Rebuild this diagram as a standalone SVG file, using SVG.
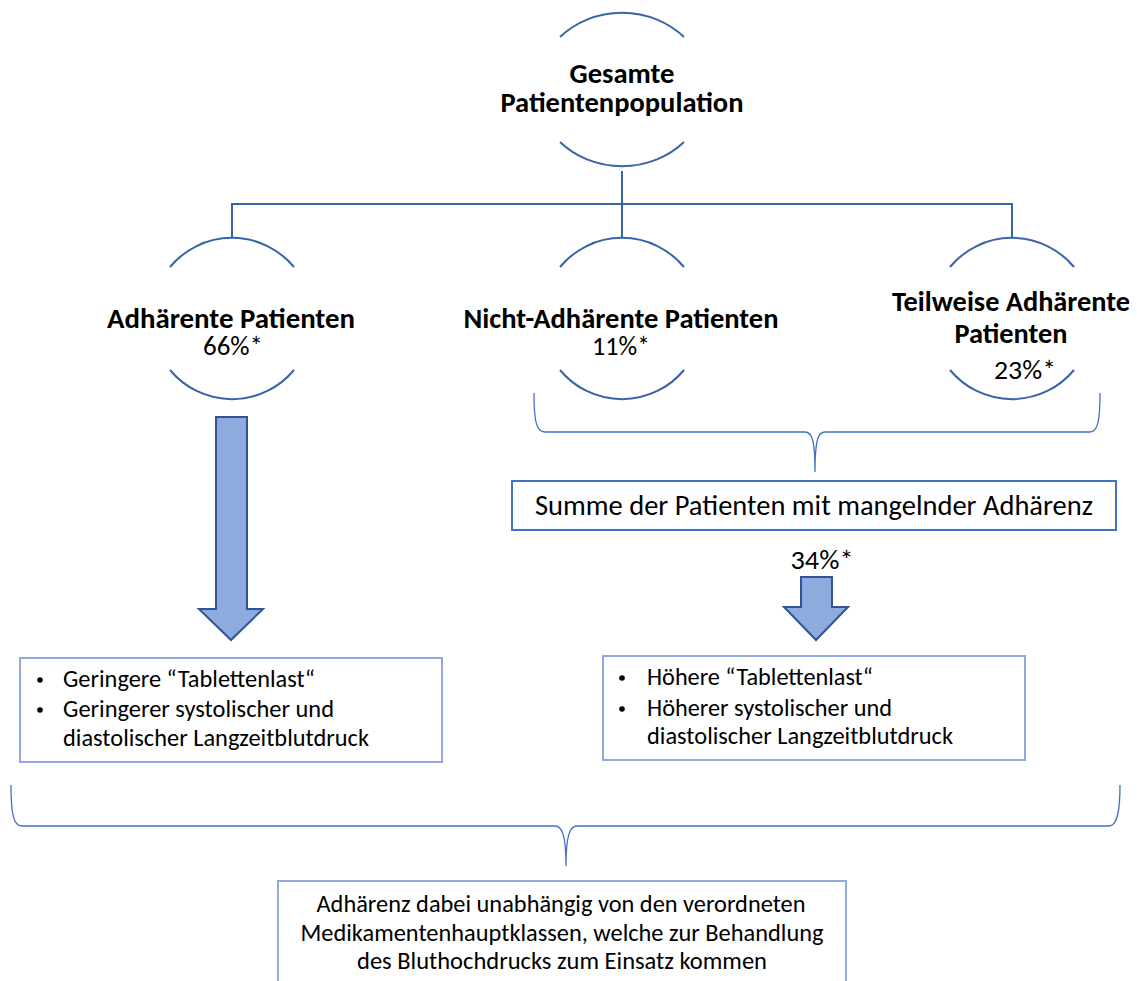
<svg xmlns="http://www.w3.org/2000/svg" width="1137" height="981" viewBox="0 0 1137 981">
  <style>
    text { font-family: Carlito, Calibri, Lato, "Liberation Sans", sans-serif; fill: #000; }
    .h { font-size: 28px; font-weight: bold; text-anchor: middle; }
    .p { font-size: 24px; text-anchor: middle; }
    .pc { font-size: 26px; text-anchor: middle; }
    .b { font-size: 24px; }
    .arc { fill: none; stroke: #3a63a8; stroke-width: 2; }
    .conn { fill: none; stroke: #3a63a8; stroke-width: 2; }
    .brace { fill: none; stroke: #4472c4; stroke-width: 1.3; }
    .box { fill: #fff; stroke: #8faadc; stroke-width: 2; }
    .box-dark { fill: #fff; stroke: #4472c4; stroke-width: 2; }
    .arrow { fill: #8faadc; stroke: #2f5597; stroke-width: 2; stroke-linejoin: miter; }
  </style>
  <rect width="1137" height="981" fill="#fff"/>

  <!-- tree connectors and braces -->
  <g id="connectors">
    <path class="conn" d="M622,171 V238"/>
    <path class="conn" d="M232,238 V204 H1012 V238"/>
    <path class="brace" d="M534,393 C534,420 536,432 545,432 H805 C812,432 815,440 815,472 C815,440 818,432 825,432 H1090 C1098,432 1100,420 1100,393"/>
    <path class="brace" d="M11,785 C11,812 13,826 22,826 H555 C562,826 566,835 566,866 C566,835 570,826 577,826 H1109 C1117,826 1120,812 1120,785"/>
  </g>

  <!-- root node -->
  <g id="node-total">
    <path class="arc" d="M560,37 A86,79 0 0 1 684,37"/>
    <path class="arc" d="M560,142 A86,79 0 0 0 684,142"/>
    <text class="h" x="622" y="83" textLength="105" lengthAdjust="spacingAndGlyphs">Gesamte</text>
    <text class="h" x="622" y="112" textLength="243" lengthAdjust="spacingAndGlyphs">Patientenpopulation</text>
  </g>

  <g id="node-adherent">
    <path class="arc" d="M170,267 A80.5,80.5 0 0 1 294,267"/>
    <path class="arc" d="M170,370 A80.5,80.5 0 0 0 294,370"/>
    <text class="h" x="231" y="328" textLength="248" lengthAdjust="spacingAndGlyphs">Adhärente Patienten</text>
    <text class="pc" x="233" y="355" textLength="60" lengthAdjust="spacingAndGlyphs">66%*</text>
  </g>

  <g id="node-non-adherent">
    <path class="arc" d="M560,267 A80.5,80.5 0 0 1 684,267"/>
    <path class="arc" d="M560,370 A80.5,80.5 0 0 0 684,370"/>
    <text class="h" x="621" y="328" textLength="315" lengthAdjust="spacingAndGlyphs">Nicht-Adhärente Patienten</text>
    <text class="pc" x="621" y="355" textLength="58" lengthAdjust="spacingAndGlyphs">11%*</text>
  </g>

  <g id="node-partial">
    <path class="arc" d="M950,267 A80.5,80.5 0 0 1 1074,267"/>
    <path class="arc" d="M950,370 A80.5,80.5 0 0 0 1074,370"/>
    <text class="h" x="1011" y="311" textLength="238" lengthAdjust="spacingAndGlyphs">Teilweise Adhärente</text>
    <text class="h" x="1011" y="343" textLength="113" lengthAdjust="spacingAndGlyphs">Patienten</text>
    <text class="pc" x="1025" y="379" textLength="62" lengthAdjust="spacingAndGlyphs">23%*</text>
  </g>

  <g id="node-sum">
    <rect class="box-dark" x="512" y="481" width="604" height="49"/>
    <text class="p" x="814" y="515" style="font-size:28px" textLength="558" lengthAdjust="spacingAndGlyphs">Summe der Patienten mit mangelnder Adhärenz</text>
    <text class="pc" x="822" y="569" textLength="63" lengthAdjust="spacingAndGlyphs">34%*</text>
  </g>

  <g id="arrow-left">
    <polygon class="arrow" points="216,417 247,417 247,609 263,609 231,640 199,609 216,609"/>
  </g>
  <g id="arrow-right">
    <polygon class="arrow" points="801,577 832,577 832,607 848,607 816,640 784,607 801,607"/>
  </g>

  <g id="box-adherent">
    <rect class="box" x="20" y="658" width="422" height="104"/>
    <circle cx="40" cy="680" r="2.8"/>
    <circle cx="40" cy="710" r="2.8"/>
    <text class="b" x="63" y="687" textLength="252" lengthAdjust="spacingAndGlyphs">Geringere “Tablettenlast“</text>
    <text class="b" x="63" y="717" textLength="271" lengthAdjust="spacingAndGlyphs">Geringerer systolischer und</text>
    <text class="b" x="63" y="746" textLength="306" lengthAdjust="spacingAndGlyphs">diastolischer Langzeitblutdruck</text>
  </g>

  <g id="box-non-adherent">
    <rect class="box" x="603" y="656" width="422" height="104"/>
    <circle cx="622" cy="678" r="2.8"/>
    <circle cx="622" cy="709" r="2.8"/>
    <text class="b" x="647" y="685" textLength="226" lengthAdjust="spacingAndGlyphs">Höhere “Tablettenlast“</text>
    <text class="b" x="647" y="716" textLength="245" lengthAdjust="spacingAndGlyphs">Höherer systolischer und</text>
    <text class="b" x="647" y="744" textLength="306" lengthAdjust="spacingAndGlyphs">diastolischer Langzeitblutdruck</text>
  </g>

  <g id="box-summary">
    <rect class="box" x="278" y="881" width="568" height="120"/>
    <text class="p" x="561" y="912" textLength="489" lengthAdjust="spacingAndGlyphs">Adhärenz dabei unabhängig von den verordneten</text>
    <text class="p" x="562" y="941" textLength="523" lengthAdjust="spacingAndGlyphs">Medikamentenhauptklassen, welche zur Behandlung</text>
    <text class="p" x="562" y="969" textLength="410" lengthAdjust="spacingAndGlyphs">des Bluthochdrucks zum Einsatz kommen</text>
  </g>
</svg>
